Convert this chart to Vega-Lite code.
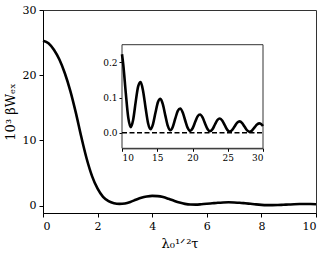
{
  "$schema": "https://vega.github.io/schema/vega-lite/v6.json",
  "width": 273,
  "height": 203,
  "autosize": {"type": "none"},
  "padding": {"left": 43, "top": 10, "right": 12, "bottom": 49},
  "background": "white",
  "config": {
    "view": {"stroke": "#333", "strokeWidth": 1},
    "font": "DejaVu Serif",
    "axis": {
      "grid": false,
      "domainColor": "black",
      "tickColor": "black",
      "labelColor": "black",
      "titleColor": "black",
      "labelFont": "DejaVu Serif",
      "titleFont": "DejaVu Serif",
      "titleFontWeight": "normal"
    }
  },
  "datasets": {
    "main": [
      {"x": 0, "y": 25.3}, {"x": 0.2, "y": 24.9}, {"x": 0.4, "y": 23.9}, {"x": 0.6, "y": 22.4},
      {"x": 0.8, "y": 20.3}, {"x": 1.0, "y": 17.6}, {"x": 1.2, "y": 14.3}, {"x": 1.4, "y": 10.6},
      {"x": 1.6, "y": 7.2}, {"x": 1.8, "y": 4.5}, {"x": 2.0, "y": 2.6}, {"x": 2.2, "y": 1.35},
      {"x": 2.4, "y": 0.7}, {"x": 2.6, "y": 0.38}, {"x": 2.8, "y": 0.28}, {"x": 3.0, "y": 0.35},
      {"x": 3.2, "y": 0.58}, {"x": 3.4, "y": 0.9}, {"x": 3.6, "y": 1.2}, {"x": 3.8, "y": 1.4},
      {"x": 4.0, "y": 1.5}, {"x": 4.2, "y": 1.47}, {"x": 4.4, "y": 1.32}, {"x": 4.6, "y": 1.05},
      {"x": 4.8, "y": 0.75}, {"x": 5.0, "y": 0.48}, {"x": 5.2, "y": 0.28}, {"x": 5.4, "y": 0.18},
      {"x": 5.6, "y": 0.17}, {"x": 5.8, "y": 0.22}, {"x": 6.0, "y": 0.29}, {"x": 6.2, "y": 0.37},
      {"x": 6.4, "y": 0.45}, {"x": 6.6, "y": 0.5}, {"x": 6.8, "y": 0.52}, {"x": 7.0, "y": 0.5},
      {"x": 7.2, "y": 0.46}, {"x": 7.4, "y": 0.38}, {"x": 7.6, "y": 0.29}, {"x": 7.8, "y": 0.2},
      {"x": 8.0, "y": 0.13}, {"x": 8.2, "y": 0.09}, {"x": 8.4, "y": 0.08}, {"x": 8.6, "y": 0.1},
      {"x": 8.8, "y": 0.14}, {"x": 9.0, "y": 0.18}, {"x": 9.2, "y": 0.22}, {"x": 9.4, "y": 0.25},
      {"x": 9.6, "y": 0.26}, {"x": 9.8, "y": 0.25}, {"x": 10.0, "y": 0.23}
    ],
    "inset": [
      {"x": 10.0, "y": 0.2229}, {"x": 10.186, "y": 0.192}, {"x": 10.538, "y": 0.1126}, {"x": 10.889, "y": 0.0428},
      {"x": 11.24, "y": 0.0158}, {"x": 11.591, "y": 0.0378}, {"x": 11.943, "y": 0.0876}, {"x": 12.294, "y": 0.1318},
      {"x": 12.645, "y": 0.1438}, {"x": 12.996, "y": 0.118}, {"x": 13.348, "y": 0.0702}, {"x": 13.699, "y": 0.027},
      {"x": 14.05, "y": 0.0101}, {"x": 14.401, "y": 0.0245}, {"x": 14.753, "y": 0.0574}, {"x": 15.104, "y": 0.0873},
      {"x": 15.455, "y": 0.0963}, {"x": 15.806, "y": 0.0798}, {"x": 16.158, "y": 0.0479}, {"x": 16.509, "y": 0.0186},
      {"x": 16.86, "y": 0.007}, {"x": 17.211, "y": 0.0171}, {"x": 17.563, "y": 0.0405}, {"x": 17.914, "y": 0.0621},
      {"x": 18.265, "y": 0.0689}, {"x": 18.616, "y": 0.0575}, {"x": 18.968, "y": 0.0347}, {"x": 19.319, "y": 0.0136},
      {"x": 19.67, "y": 0.0052}, {"x": 20.021, "y": 0.0127}, {"x": 20.373, "y": 0.0301}, {"x": 20.724, "y": 0.0464},
      {"x": 21.075, "y": 0.0518}, {"x": 21.426, "y": 0.0434}, {"x": 21.778, "y": 0.0264}, {"x": 22.129, "y": 0.0104},
      {"x": 22.48, "y": 0.004}, {"x": 22.831, "y": 0.0097}, {"x": 23.183, "y": 0.0233}, {"x": 23.534, "y": 0.036},
      {"x": 23.885, "y": 0.0403}, {"x": 24.236, "y": 0.0339}, {"x": 24.588, "y": 0.0207}, {"x": 24.939, "y": 0.0082},
      {"x": 25.29, "y": 0.0031}, {"x": 25.641, "y": 0.0077}, {"x": 25.993, "y": 0.0185}, {"x": 26.344, "y": 0.0287},
      {"x": 26.695, "y": 0.0323}, {"x": 27.046, "y": 0.0272}, {"x": 27.398, "y": 0.0167}, {"x": 27.749, "y": 0.0066},
      {"x": 28.1, "y": 0.0025}, {"x": 28.451, "y": 0.0063}, {"x": 28.803, "y": 0.0151}, {"x": 29.154, "y": 0.0234},
      {"x": 29.505, "y": 0.0264}, {"x": 29.856, "y": 0.0224}, {"x": 30.0, "y": 0.0191}
    ],
    "box": [{"x0": 10, "x1": 30, "y0": -0.0443, "y1": 0.25}],
    "zeroline": [{"x0": 10, "x1": 30, "y": 0}]
  },
  "layer": [
    {
      "data": {"name": "main"},
      "mark": {"type": "line", "color": "black", "strokeWidth": 2.6, "interpolate": "monotone"},
      "encoding": {
        "x": {
          "field": "x", "type": "quantitative",
          "scale": {"domain": [0, 10], "nice": false, "zero": false},
          "axis": {"orient": "bottom", "values": [0, 2, 4, 6, 8, 10], "title": "λ₀¹ᐟ²τ",
                   "labelFontSize": 11, "titleFontSize": 13, "tickSize": 4, "labelPadding": 3, "titlePadding": 6}
        },
        "y": {
          "field": "y", "type": "quantitative",
          "scale": {"domain": [-1.12, 30], "nice": false, "zero": false},
          "axis": {"orient": "left", "values": [0, 10, 20, 30], "title": "10³ βWₑₓ",
                   "labelFontSize": 11, "titleFontSize": 13, "tickSize": 4, "labelPadding": 3, "titlePadding": 5}
        }
      }
    },
    {
      "layer": [
        {
          "data": {"name": "box"},
          "mark": {"type": "rect", "fill": "white", "stroke": "#333", "strokeWidth": 1},
          "encoding": {
            "x": {"field": "x0", "type": "quantitative"},
            "x2": {"field": "x1"},
            "y": {"field": "y0", "type": "quantitative"},
            "y2": {"field": "y1"}
          }
        },
        {
          "data": {"name": "zeroline"},
          "mark": {"type": "rule", "color": "black", "strokeWidth": 1.5, "strokeDash": [5, 2.5]},
          "encoding": {
            "x": {"field": "x0", "type": "quantitative"},
            "x2": {"field": "x1"},
            "y": {"field": "y", "type": "quantitative"}
          }
        },
        {
          "data": {"name": "inset"},
          "mark": {"type": "line", "color": "black", "strokeWidth": 2.6, "interpolate": "monotone"},
          "encoding": {
            "x": {
              "field": "x", "type": "quantitative",
              "scale": {"domain": [10, 30], "range": [79, 220], "nice": false, "zero": false},
              "axis": {"orient": "bottom", "offset": -64.7, "values": [10, 15, 20, 25, 30], "title": null,
                       "labelFontSize": 9, "tickSize": 3, "labelPadding": 2}
            },
            "y": {
              "field": "y", "type": "quantitative",
              "scale": {"domain": [-0.0443, 0.25], "range": [138.3, 34.7], "nice": false, "zero": false},
              "axis": {"orient": "left", "offset": -79, "values": [0, 0.1, 0.2], "format": ".1f", "title": null,
                       "labelFontSize": 9, "tickSize": 3, "labelPadding": 2}
            }
          }
        }
      ]
    }
  ],
  "resolve": {
    "scale": {"x": "independent", "y": "independent"},
    "axis": {"x": "independent", "y": "independent"}
  }
}
